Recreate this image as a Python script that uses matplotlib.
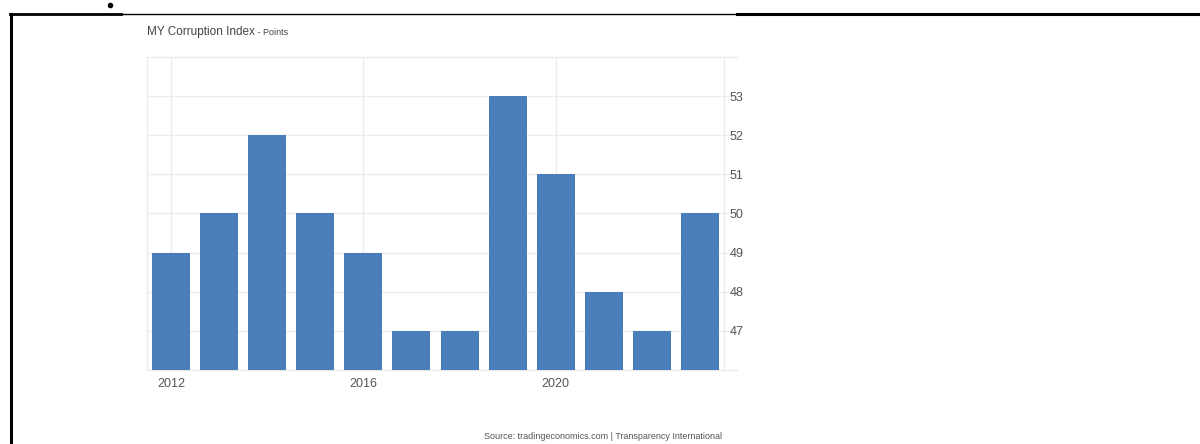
import matplotlib
matplotlib.use('Agg')
import matplotlib.pyplot as plt
from matplotlib.lines import Line2D

years = [2012, 2013, 2014, 2015, 2016, 2017, 2018, 2019, 2020, 2021, 2022, 2023]
scores = [49, 50, 52, 50, 49, 47, 47, 53, 51, 48, 47, 50]
x_ticks = [2012, 2016, 2020]
y_ticks = [47, 48, 49, 50, 51, 52, 53]

BAR_COLOR = "#4a7ebb"
GRID_COLOR = "#ececec"
TEXT_COLOR = "#555555"

plt.rcParams['font.family'] = ['Liberation Sans', 'DejaVu Sans']

fig = plt.figure(figsize=(12, 4.44), dpi=100)
ax = fig.add_axes([147 / 1200, 74 / 444, 577 / 1200, 313 / 444])

ax.bar(years, scores, width=0.79, color=BAR_COLOR, zorder=3)
ax.set_xlim(2011.5, 2023.5)
ax.set_ylim(46, 54)

# right-side y axis, light frame
ax.yaxis.tick_right()
ax.set_yticks(y_ticks)
ax.set_xticks(x_ticks)
ax.tick_params(axis='both', length=0, labelsize=9, labelcolor=TEXT_COLOR)
ax.tick_params(axis='y', pad=4)
ax.tick_params(axis='x', pad=6)
for s in ax.spines.values():
    s.set_color(GRID_COLOR)
    s.set_linewidth(1)
ax.spines['top'].set_visible(False)
ax.spines['bottom'].set_visible(False)

# horizontal lines run a little past the right edge, under the labels
for v in y_ticks + [46, 54]:
    ax.axhline(v, xmin=0, xmax=1.0225, color=GRID_COLOR, lw=1, zorder=1, clip_on=False)
for v in x_ticks:
    ax.axvline(v, color=GRID_COLOR, lw=1, zorder=1)

# title
t = fig.text(147 / 1200, 1 - 32 / 444, "MY Corruption Index", fontsize=8.5,
             color="#444444", va='center', ha='left')
ax.annotate(" - Points", xy=(1, 0.1), xycoords=t, fontsize=6.5, color="#444444",
            va='bottom', ha='left', annotation_clip=False)

fig.text(722 / 1200, 1 - 436 / 444,
         "Source: tradingeconomics.com | Transparency International",
         fontsize=6.5, color=TEXT_COLOR, ha='right', va='center')

# outer frame lines of the screenshot
fig.add_artist(Line2D([11 / 1200, 11 / 1200], [1 - 14 / 444, 0], color='black',
                      lw=2.2, transform=fig.transFigure))
fig.add_artist(Line2D([10 / 1200, 121 / 1200], [1 - 14 / 444, 1 - 14 / 444], color='black',
                      lw=2, transform=fig.transFigure))
fig.add_artist(Line2D([121 / 1200, 737 / 1200], [1 - 14 / 444, 1 - 14 / 444], color='black',
                      lw=1, transform=fig.transFigure))
fig.add_artist(Line2D([737 / 1200, 1.0], [1 - 14 / 444, 1 - 14 / 444], color='black',
                      lw=2.2, transform=fig.transFigure))
fig.add_artist(Line2D([110 / 1200], [1 - 5 / 444], marker='o', markersize=3,
                      color='black', transform=fig.transFigure))

fig.savefig("out.png", dpi=100)
